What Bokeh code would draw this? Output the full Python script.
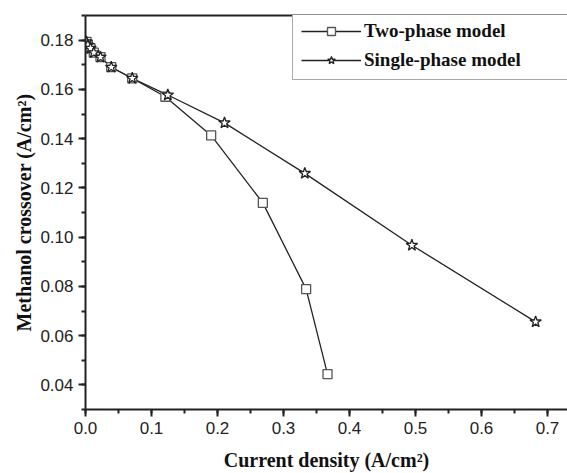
from bokeh.plotting import figure
from bokeh.models import (LinearAxis, FixedTicker, Legend, LegendItem,
                          NumeralTickFormatter, Range1d, SingleIntervalTicker)
from bokeh.embed import file_html
from bokeh.resources import INLINE

# Data
cur_two = [0.0015, 0.0035, 0.0076, 0.0126, 0.0227, 0.039, 0.0708, 0.121, 0.1904, 0.2687, 0.3343, 0.3667]
mc_two = [0.1793, 0.178, 0.1767, 0.1749, 0.1731, 0.169, 0.1645, 0.1570, 0.1413, 0.1139, 0.0789, 0.0444]
cur_single = [0.0015, 0.0035, 0.0076, 0.0126, 0.0227, 0.039, 0.0708, 0.1247, 0.2106, 0.3323, 0.4945, 0.682]
mc_single = [0.1793, 0.178, 0.1767, 0.1749, 0.1731, 0.169, 0.1645, 0.1577, 0.1464, 0.1259, 0.0967, 0.0656]

labels = ["Two-phase model", "Single-phase model"]

p = figure(width=567, height=473, output_backend="svg", toolbar_location=None,
           x_range=Range1d(0, 0.7303), y_range=Range1d(0.03, 0.19),
           min_border_left=85, min_border_top=15, min_border_right=0, min_border_bottom=57)
p.outline_line_color = None
p.xgrid.visible = False
p.ygrid.visible = False
p.background_fill_color = "white"
p.border_fill_color = "white"

l1 = p.line(cur_two, mc_two, line_color="#222222", line_width=1.3)
l2 = p.line(cur_single, mc_single, line_color="#222222", line_width=1.3)
s1 = p.scatter(cur_two, mc_two, marker="square", size=9, fill_color="white",
               line_color="#555555", line_width=1.3)
s2 = p.scatter(cur_single, mc_single, marker="star", size=12, fill_color="white",
               line_color="#222222", line_width=1.3)

tick_font = "Liberation Sans"
title_font = "Liberation Serif"

for ax in (p.xaxis[0], p.yaxis[0]):
    ax.axis_line_width = 2
    ax.axis_line_color = "#222222"
    ax.major_tick_line_width = 2
    ax.minor_tick_line_width = 2
    ax.major_tick_line_color = "#222222"
    ax.minor_tick_line_color = "#222222"
    ax.major_tick_in = 0
    ax.major_tick_out = 7
    ax.minor_tick_in = 0
    ax.minor_tick_out = 4
    ax.major_label_text_font = tick_font
    ax.major_label_text_font_size = "17px"
    ax.major_label_text_color = "#222222"
    ax.axis_label_text_font = title_font
    ax.axis_label_text_font_style = "bold"
    ax.axis_label_text_font_size = "20px"
    ax.axis_label_text_color = "#111111"

p.xaxis[0].ticker = SingleIntervalTicker(interval=0.1, num_minor_ticks=2)
p.xaxis[0].formatter = NumeralTickFormatter(format="0.0")
p.xaxis[0].major_label_standoff = 5
p.xaxis[0].axis_label = "Current density (A/cm²)"
p.xaxis[0].axis_label_standoff = 12

p.yaxis[0].ticker = SingleIntervalTicker(interval=0.02, num_minor_ticks=2)
p.yaxis[0].formatter = NumeralTickFormatter(format="0.00")
p.yaxis[0].major_label_standoff = 5
p.yaxis[0].axis_label = "Methanol crossover (A/cm²)"
p.yaxis[0].axis_label_standoff = 2

top = LinearAxis(ticker=FixedTicker(ticks=[]), axis_line_width=2, axis_line_color="#222222",
                 major_label_text_font_size="0px")
p.add_layout(top, "above")

legend = Legend(items=[LegendItem(label=labels[0], renderers=[l1, s1]),
                       LegendItem(label=labels[1], renderers=[l2, s2])],
                location=(207, 329), padding=8, spacing=7,
                glyph_width=60, glyph_height=20, label_height=20, label_width=200,
                label_standoff=3, border_line_color="#555555", border_line_width=1.5,
                label_text_font=title_font, label_text_font_style="bold",
                label_text_font_size="19px", label_text_color="#111111",
                background_fill_color="white", background_fill_alpha=1.0)
p.add_layout(legend)

open("out.html", "w").write(file_html(p, INLINE))
